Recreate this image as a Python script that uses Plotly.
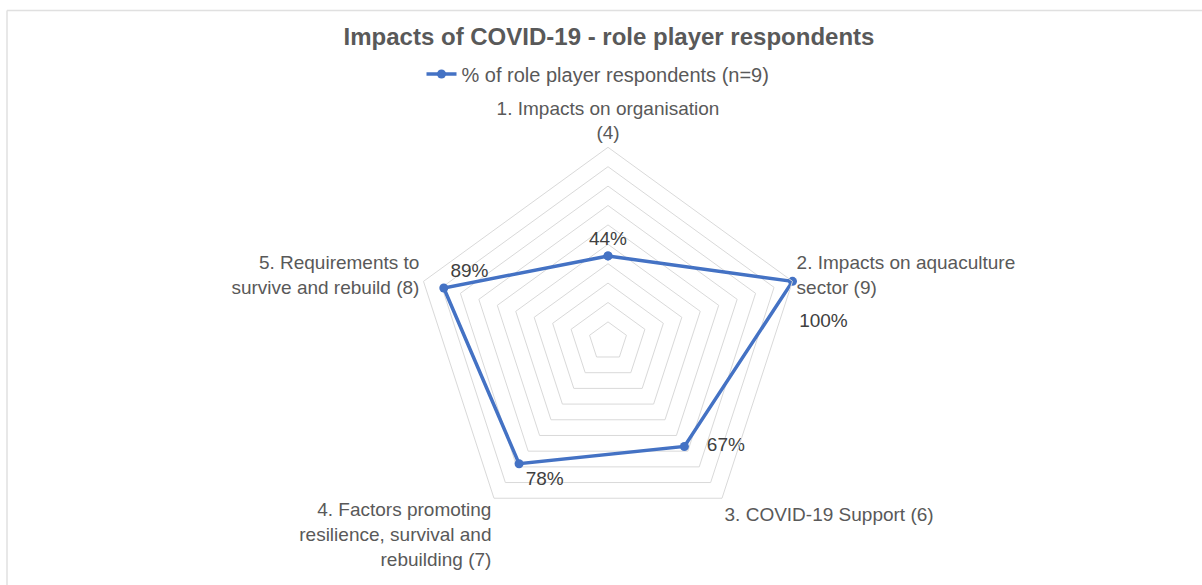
import plotly.graph_objects as go

# ---- data ----
categories = [
    "1. Impacts on organisation<br>(4)",
    "2. Impacts on aquaculture<br>sector (9)",
    "3. COVID-19 Support (6)",
    "4. Factors promoting<br>resilience, survival and<br>rebuilding (7)",
    "5. Requirements to<br>survive and rebuild (8)",
]
pct_values = [44, 100, 67, 78, 89]
series_name = "% of role player respondents (n=9)"
title_text = "Impacts of COVID-19 - role player respondents"

# label styling (placement only)
label_positions = ["top center", "bottom right", "middle right", "bottom right", "top right"]
label_prefix = ["", "<br>", "\u00a0\u00a0\u00a0", "", ""]

W, H = 1202, 585
FONT = "Arial, Liberation Sans, sans-serif"
GRID = "#d9d9d9"
TXT = "#595959"
BLUE = "#4472C4"

r_closed = pct_values + [pct_values[0]]
theta_closed = categories + [categories[0]]
text_closed = [p + f"{v}%" for p, v in zip(label_prefix, pct_values)] + [""]
pos_closed = label_positions + ["top center"]

fig = go.Figure()
fig.add_trace(go.Scatterpolar(
    r=r_closed,
    theta=theta_closed,
    mode="lines+markers+text",
    name=series_name,
    text=text_closed,
    textposition=pos_closed,
    textfont=dict(family=FONT, size=19, color="#404040"),
    line=dict(color=BLUE, width=3.5),
    marker=dict(color=BLUE, size=9),
    cliponaxis=False,
))

cx, cy, R = 608, 341.3, 194
fig.update_layout(
    width=W, height=H,
    margin=dict(l=0, r=0, t=0, b=0),
    paper_bgcolor="white",
    plot_bgcolor="white",
    font=dict(family=FONT, color=TXT),
    title=dict(
        text=f"<b>{title_text}</b>",
        font=dict(family=FONT, size=24, color=TXT),
        x=609 / W, xanchor="center",
        y=1 - 37 / H, yanchor="middle",
        xref="paper", yref="container",
    ),
    showlegend=True,
    legend=dict(
        orientation="h",
        x=598 / W, xanchor="center",
        y=1 - 74 / H, yanchor="middle",
        font=dict(family=FONT, size=20, color=TXT),
        bgcolor="rgba(0,0,0,0)",
    ),
    polar=dict(
        domain=dict(x=[(cx - 300) / W, (cx + 300) / W],
                    y=[1 - (cy + R) / H, 1 - (cy - R) / H]),
        bgcolor="white",
        gridshape="linear",
        radialaxis=dict(
            range=[0, 100], dtick=10, tick0=0,
            showticklabels=False, ticks="", showline=False,
            gridcolor=GRID, gridwidth=1,
        ),
        angularaxis=dict(
            type="category",
            categoryorder="array", categoryarray=categories,
            direction="clockwise", rotation=90,
            showgrid=False, ticks="",
            showline=True, linecolor=GRID, linewidth=1,
            tickfont=dict(family=FONT, size=19, color=TXT),
        ),
    ),
    shapes=[
        dict(type="line", xref="paper", yref="paper",
             x0=7 / W, x1=1.0, y0=1 - 10.5 / H, y1=1 - 10.5 / H,
             line=dict(color="#e0e0e0", width=1.5)),
        dict(type="line", xref="paper", yref="paper",
             x0=7 / W, x1=7 / W, y0=1 - 10.5 / H, y1=0,
             line=dict(color="#e0e0e0", width=1.5)),
    ],
)

fig.write_html("out.html")
